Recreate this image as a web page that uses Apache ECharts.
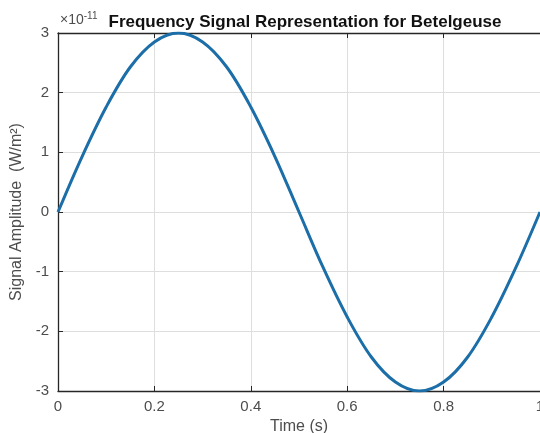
<!DOCTYPE html>
<html><head><meta charset="utf-8">
<script src="https://cdn.jsdelivr.net/npm/echarts@6/dist/echarts.min.js"></script>
<style>html,body{margin:0;padding:0;background:#fff}#c{width:540px;height:433px}</style>
</head><body><div id="c"></div>
<script>
// Time samples (s)
var timeS = [0,0.05,0.1,0.15,0.2,0.25,0.3,0.35,0.4,0.45,0.5,0.55,0.6,0.65,0.7,0.75,0.8,0.85,0.9,0.95,1.0];
// Signal amplitude in units of 1e-11 W/m^2
var amplitude = [0,0.93,1.76,2.43,2.85,3.0,2.85,2.43,1.76,0.93,0,-0.93,-1.76,-2.43,-2.85,-3.0,-2.85,-2.43,-1.76,-0.93,0];
var xTicks = [0,0.2,0.4,0.6,0.8,1];
var yTicks = [-3,-2,-1,0,1,2,3];

var pts = timeS.map(function(t,i){return [t, amplitude[i]];});
var chart = echarts.init(document.getElementById('c'));
var axisCol = '#262626', labCol = '#4d4d4d', gridCol = '#dedede';
var font = 'Liberation Sans, Arial, sans-serif';
chart.setOption({
  animation:false,
  title:{text:'Frequency Signal Representation for Betelgeuse', left:300, top:9, textAlign:'center',
    textStyle:{fontFamily:font, fontSize:17, fontWeight:'bold', color:'#111'}},
  graphic:[{type:'text', left:60, top:11, z:0, style:{
    text:'{a|×10}{b|-11}', rich:{a:{fontFamily:font,fontSize:14,fill:labCol},b:{fontFamily:font,fontSize:10,fill:labCol,verticalAlign:'top',padding:[0,0,8,0]}}}}],
  grid:{left:58, right:0, top:33, bottom:42, containLabel:false, outerBoundsMode:'none'},
  xAxis:[{type:'value', min:0, max:1, interval:0.2, position:'bottom',
    axisLine:{onZero:false,lineStyle:{color:axisCol,width:1.3}},
    axisTick:{inside:true,length:5,lineStyle:{color:axisCol}},
    axisLabel:{color:labCol,fontFamily:font,fontSize:15,margin:8,formatter:function(v){return String(+v.toFixed(1));}},
    splitLine:{show:true,lineStyle:{color:gridCol,width:1}},
    name:'Time (s)', nameLocation:'middle', nameGap:27,
    nameTextStyle:{color:labCol,fontFamily:font,fontSize:16}},
   {type:'value', min:0, max:1, interval:0.2, position:'top',
    axisLine:{show:true,onZero:false,lineStyle:{color:axisCol,width:1.3}},
    axisTick:{inside:true,length:5,lineStyle:{color:axisCol}},
    axisLabel:{show:false}, splitLine:{show:false}}],
  yAxis:[{type:'value', min:-3, max:3, interval:1,
    axisLine:{show:true,onZero:false,lineStyle:{color:axisCol,width:1.3}},
    axisTick:{show:true,inside:true,length:5,lineStyle:{color:axisCol}},
    axisLabel:{color:labCol,fontFamily:font,fontSize:15,margin:9},
    splitLine:{show:true,lineStyle:{color:gridCol,width:1}},
    name:'Signal Amplitude  (W/m\u00B2)', nameLocation:'middle', nameGap:31,
    nameTextStyle:{color:labCol,fontFamily:font,fontSize:16}}],
  series:[{type:'line', data:pts, smooth:0.35, showSymbol:false, z:3,
    lineStyle:{color:'#1b6ea8', width:3}, itemStyle:{color:'#1b6ea8'}}]
});
</script></body></html>
